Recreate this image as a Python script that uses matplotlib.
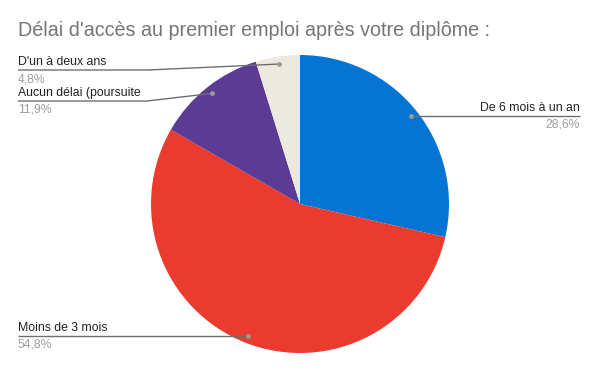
import numpy as np
import matplotlib.pyplot as plt

# --- data ---
categories = ["De 6 mois à un an", "Moins de 3 mois", "Aucun délai (poursuite", "D'un à deux ans"]
shares = [28.6, 54.8, 11.9, 4.8]
pct_labels = ["28,6%", "54,8%", "11,9%", "4,8%"]
colors = ["#0674d3", "#eb3b2e", "#5b3b96", "#ece9de"]

title = "Délai d'accès au premier emploi après votre diplôme :"

# --- layout (pixel coords, y up) ---
W, H = 600, 371
center = (300, H - 204)
radius = 149
# for each slice: side, end x of leader line, y of horizontal part, bend x
leaders = [
    ("right", 580, H - 115, None),
    ("left", 18, H - 335, None),
    ("left", 18, H - 101, 147),
    ("left", 18, H - 70, 148),
]

plt.rcParams['font.family'] = ['Liberation Sans', 'DejaVu Sans']

fig = plt.figure(figsize=(6, 3.71), dpi=100)
ax = fig.add_axes([0, 0, 1, 1])

wedges, _ = ax.pie(shares, colors=colors, startangle=90, counterclock=False,
                   center=center, radius=radius, frame=True,
                   wedgeprops=dict(linewidth=0))

line_c = "#6e6e6e"
for w, name, pct, (side, xend, ly, bend) in zip(wedges, categories, pct_labels, leaders):
    # leader dot sits near the rim, at the middle of the slice
    mid = np.deg2rad((w.theta1 + w.theta2) / 2)
    dx = center[0] + 0.95 * radius * np.cos(mid)
    dy = center[1] + 0.95 * radius * np.sin(mid)
    if bend is None:
        xs, ys = [dx, xend], [dy, dy]
        ly = dy
    else:
        xs, ys = [dx, bend, xend], [dy, ly, ly]
    ax.plot(xs, ys, color=line_c, lw=1, solid_capstyle='butt', zorder=3)
    ax.plot(dx, dy, 'o', color="#999999", ms=3.5, mec='none', zorder=4)
    ha = 'right' if side == "right" else 'left'
    ax.text(xend, ly + 2, name, ha=ha, va='bottom', fontsize=8.8, color="#222222")
    ax.text(xend, ly - 3, pct, ha=ha, va='top', fontsize=8.8, color="#9e9e9e")

ax.text(18, H - 36, title, ha='left', va='baseline', fontsize=14.2, color="#757575")

ax.set_xlim(0, W)
ax.set_ylim(0, H)
ax.set_aspect('equal')
ax.axis('off')

fig.savefig("out.png", dpi=100, facecolor="white")
